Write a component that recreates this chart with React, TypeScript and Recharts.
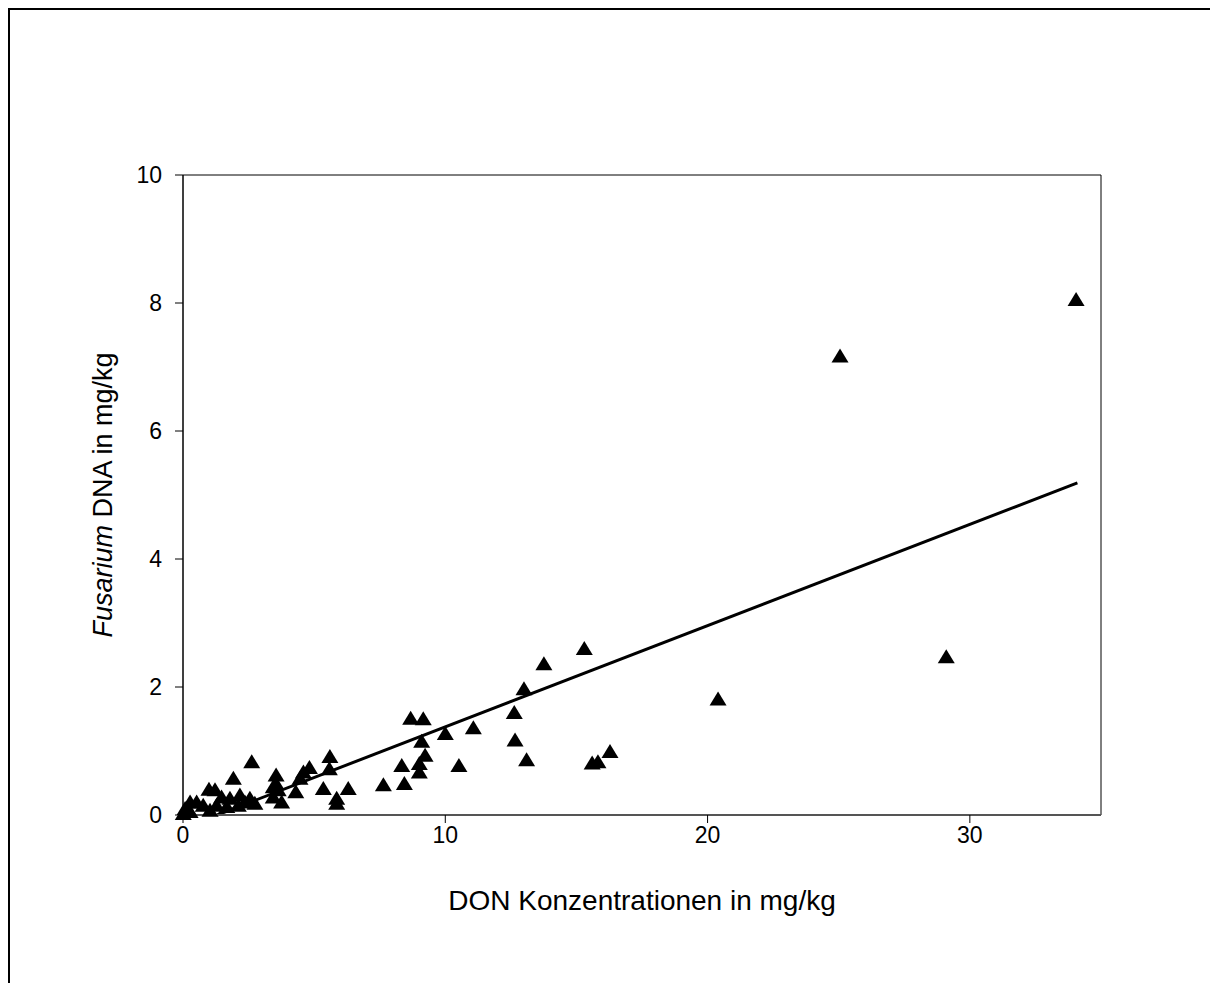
import React from "react";
import {
  ScatterChart,
  Scatter,
  XAxis,
  YAxis,
  ReferenceArea,
  ReferenceLine,
} from "recharts";

// DON concentration (x) and Fusarium DNA (y)
const donValues = [
  34.05, 25.05, 29.1, 20.4, 16.28, 15.82, 15.6, 15.3, 13.76, 13.0, 13.1, 12.63,
  12.66, 11.07, 10.52, 10.0, 8.68, 9.16, 9.1, 9.23, 9.01, 8.34, 9.01, 8.44, 7.64,
  6.3, 5.6, 5.58, 4.82, 4.59, 4.46, 3.55, 3.55, 3.63, 3.76, 5.35, 5.86, 5.86, 4.3,
  2.62, 1.92, 0.99, 1.22, 2.17, 1.47, 1.79, 2.55, 2.36, 0.52, 0.27, 0.77, 0.08,
  0.01, 0.27, 1.28, 1.03, 1.67, 2.11, 2.74, 3.44, 3.44,
];
const dnaValues = [
  8.05, 7.17, 2.47, 1.81, 0.99, 0.83, 0.81, 2.6, 2.36, 1.97, 0.86, 1.6, 1.17,
  1.36, 0.77, 1.27, 1.51, 1.5, 1.15, 0.93, 0.8, 0.77, 0.67, 0.49, 0.47, 0.41,
  0.91, 0.72, 0.74, 0.67, 0.57, 0.62, 0.49, 0.39, 0.2, 0.41, 0.26, 0.18, 0.36,
  0.83, 0.57, 0.4, 0.39, 0.31, 0.28, 0.26, 0.26, 0.2, 0.2, 0.2, 0.15, 0.1, 0.02,
  0.05, 0.15, 0.07, 0.13, 0.15, 0.18, 0.44, 0.28,
];
const xTicks = [0, 10, 20, 30];
const yTicks = [0, 2, 4, 6, 8, 10];
// fitted regression line end points
const fitStart = { x: 1.3, y: 0 };
const fitEnd = { x: 34.1, y: 5.19 };

const points = donValues.map((x, i) => ({ x, y: dnaValues[i] }));

const font = "'Liberation Sans', Arial, sans-serif";

// filled triangle centred on the point
const Triangle = (props: any) => {
  const { cx, cy } = props;
  const w = 8.5;
  const h = 14;
  return (
    <path
      d={`M${cx},${cy - h * 0.55} L${cx + w},${cy + h * 0.45} L${cx - w},${cy + h * 0.45} Z`}
      fill="#000"
    />
  );
};

export default function App() {
  return (
    <div
      style={{
        position: "relative",
        width: 1210,
        height: 975,
        borderTop: "2px solid #000",
        borderLeft: "2px solid #000",
        boxSizing: "border-box",
        fontFamily: font,
      }}
    >
      <ScatterChart
        width={1200}
        height={965}
        margin={{ top: 165, right: 109, bottom: 80, left: 93 }}
      >
        <ReferenceArea
          x1={0}
          x2={35}
          y1={0}
          y2={10}
          fill="none"
          stroke="#000"
          strokeWidth={1}
        />
        <XAxis
          type="number"
          dataKey="x"
          domain={[0, 35]}
          ticks={xTicks}
          height={80}
          stroke="#555"
          strokeWidth={2}
          tickSize={8}
          tickMargin={4}
          fontSize={23}
          fontFamily={font}
          tick={{ fill: "#000", fontSize: 23 }}
          tickLine={{ stroke: "#000", strokeWidth: 1 }}
          label={{
            content: (props: any) => {
              const vb = props.viewBox;
              return (
                <text
                  x={vb.x + vb.width / 2}
                  y={vb.y + 95}
                  textAnchor="middle"
                  fontSize={28}
                  fontFamily={font}
                  fill="#000"
                >
                  DON Konzentrationen in mg/kg
                </text>
              );
            },
          }}
        />
        <YAxis
          type="number"
          dataKey="y"
          domain={[0, 10]}
          ticks={yTicks}
          width={80}
          stroke="#000"
          tickSize={8}
          tickMargin={13}
          fontSize={23}
          fontFamily={font}
          tick={{ fill: "#000", fontSize: 23 }}
          label={{
            content: (props: any) => {
              const vb = props.viewBox;
              const cx = vb.x;
              const cy = vb.y + vb.height / 2;
              return (
                <text
                  x={cx}
                  y={cy}
                  transform={`rotate(-90, ${cx}, ${cy})`}
                  textAnchor="middle"
                  dominantBaseline="central"
                  fontSize={27}
                  fontFamily={font}
                  fill="#000"
                >
                  <tspan fontStyle="italic">Fusarium</tspan> DNA in mg/kg
                </text>
              );
            },
          }}
        />
        <ReferenceLine
          segment={[fitStart, fitEnd]}
          stroke="#000"
          strokeWidth={3}
        />
        <Scatter
          data={points}
          shape={<Triangle />}
          fill="#000"
          isAnimationActive={false}
        />
      </ScatterChart>
    </div>
  );
}
